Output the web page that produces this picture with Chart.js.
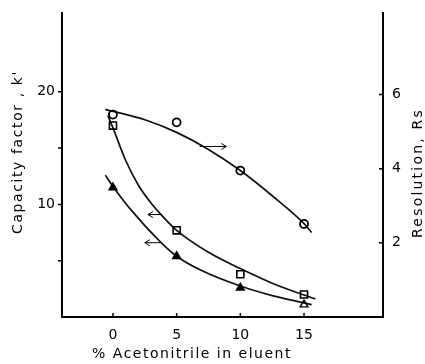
<!DOCTYPE html>
<html lang="en">
<head>
<meta charset="UTF-8">
<script src="https://cdn.jsdelivr.net/npm/chart.js"></script>
<title>Capacity factor and resolution vs. acetonitrile</title>
<style>
  html, body { margin: 0; padding: 0; background: #fff; }
</style>
</head>
<body>
<canvas id="chart" width="425" height="364"></canvas>
<script>
// measured points
const acetonitrile = [0, 5, 10, 15];
const resolution = [5.46, 5.25, 3.95, 2.51];   // circles, right axis
const kSquare = [17.0, 7.7, 3.8, 2.0];         // squares, left axis
const kTriangle = [11.5, 5.4, 2.6, 1.1];       // triangles, left axis

// hand-drawn fit curves, [x, y]
const resolutionFit = [[-0.6, 5.6], [2.5, 5.32], [5, 4.98], [7.5, 4.52], [10, 3.95], [12.5, 3.27], [15, 2.52], [15.6, 2.28]];
const kSquareFit = [[-0.4, 17.9], [0, 16.8], [1, 13.9], [2, 11.7], [3, 10.1], [3.85, 9.0], [5, 7.7], [7.5, 5.75], [10, 4.3], [12.5, 3.0], [15, 1.95], [15.9, 1.6]];
const kTriangleFit = [[-0.6, 12.6], [0, 11.6], [1.5, 9.4], [3.7, 6.7], [5, 5.4], [7, 4.1], [10, 2.75], [12.5, 1.9], [15, 1.25], [15.6, 1.1]];

// axis ticks
const xTicks = [0, 5, 10, 15];
const kTicks = [5, 10, 15, 20];
const kTickLabels = ['', '10', '', '20'];
const rsTicks = [2, 4, 6];

// little arrows telling which axis a curve belongs to
const pointers = [
  { axis: 'yR', from: [6.8, 4.6], to: [8.9, 4.6] },
  { axis: 'yL', from: [3.8, 9.1], to: [2.75, 9.1] },
  { axis: 'yL', from: [3.7, 6.6], to: [2.5, 6.6] }
];

const FONT = '"DejaVu Sans", sans-serif';
const pts = (xs, ys) => xs.map((x, i) => ({ x: x, y: ys[i] }));
const pairs = arr => arr.map(p => ({ x: p[0], y: p[1] }));

const curve = (data, axis) => ({
  data: pairs(data), yAxisID: axis, showLine: true, pointRadius: 0,
  borderColor: '#111', borderWidth: 1.7, cubicInterpolationMode: 'monotone', order: 2
});

const decor = {
  id: 'decor',
  afterDraw(chart) {
    const ctx = chart.ctx;
    const { x, yL, yR } = chart.scales;
    const a = chart.chartArea;
    ctx.save();
    ctx.strokeStyle = '#000';
    ctx.lineWidth = 1.5;
    ctx.beginPath();
    xTicks.forEach(v => { const p = x.getPixelForValue(v); ctx.moveTo(p, a.bottom); ctx.lineTo(p, a.bottom - 4); });
    kTicks.forEach(v => { const p = yL.getPixelForValue(v); ctx.moveTo(a.left, p); ctx.lineTo(a.left - 4, p); });
    rsTicks.forEach(v => { const p = yR.getPixelForValue(v); ctx.moveTo(a.right, p); ctx.lineTo(a.right - 4, p); });
    ctx.stroke();

    // pointers
    ctx.lineWidth = 1;
    pointers.forEach(pt => {
      const sc = chart.scales[pt.axis];
      const x0 = x.getPixelForValue(pt.from[0]), y0 = sc.getPixelForValue(pt.from[1]);
      const x1 = x.getPixelForValue(pt.to[0]), y1 = sc.getPixelForValue(pt.to[1]);
      const dir = Math.sign(x1 - x0);
      ctx.beginPath();
      ctx.moveTo(x0, y0); ctx.lineTo(x1, y1);
      ctx.moveTo(x1 - dir * 5, y1 - 3); ctx.lineTo(x1, y1); ctx.lineTo(x1 - dir * 5, y1 + 3);
      ctx.stroke();
    });

    // axis titles
    ctx.fillStyle = '#000';
    ctx.font = '14px ' + FONT;
    ctx.textAlign = 'center';
    ctx.textBaseline = 'middle';
    ctx.letterSpacing = '1.5px';
    ctx.fillText('% Acetonitrile in eluent', 192, 354);
    ctx.save();
    ctx.translate(18, 152); ctx.rotate(-Math.PI / 2);
    ctx.letterSpacing = '1.6px';
    ctx.fillText("Capacity factor , k'", 0, 0);
    ctx.restore();
    ctx.save();
    ctx.translate(418, 173); ctx.rotate(-Math.PI / 2);
    ctx.letterSpacing = '2.2px';
    ctx.fillText('Resolution, Rs', 0, 0);
    ctx.restore();
    ctx.restore();
  }
};

new Chart(document.getElementById('chart'), {
  type: 'scatter',
  data: {
    datasets: [
      curve(resolutionFit, 'yR'),
      curve(kSquareFit, 'yL'),
      curve(kTriangleFit, 'yL'),
      { data: pts(acetonitrile, resolution), yAxisID: 'yR', pointStyle: 'circle', pointRadius: 4,
        pointBorderWidth: 1.8, borderColor: '#000', backgroundColor: 'transparent', order: 1 },
      { data: pts(acetonitrile, kSquare), yAxisID: 'yL', pointStyle: 'rect', pointRadius: 5,
        pointBorderWidth: 1.6, borderColor: '#000', backgroundColor: 'transparent', order: 1 },
      { data: pts(acetonitrile, kTriangle), yAxisID: 'yL', pointStyle: 'triangle', pointRadius: 4.5,
        pointBorderWidth: 1.4, borderColor: '#000', backgroundColor: ['#000', '#000', '#000', 'transparent'], order: 1 }
    ]
  },
  options: {
    responsive: false,
    animation: false,
    layout: { padding: { top: 13 } },
    plugins: { legend: { display: false }, tooltip: { enabled: false } },
    scales: {
      x: {
        type: 'linear', min: -4, max: 21.2,
        grid: { display: false, drawTicks: false },
        border: { color: '#000', width: 2 },
        ticks: { color: '#000', font: { family: FONT, size: 14 }, padding: 10 },
        afterBuildTicks: s => { s.ticks = xTicks.map(v => ({ value: v })); },
        afterFit: s => { s.height = 47; s.paddingLeft = 0; s.paddingRight = 0; }
      },
      yL: {
        position: 'left', min: 0, max: 27,
        grid: { display: false, drawTicks: false },
        border: { color: '#000', width: 2 },
        ticks: { color: '#000', font: { family: FONT, size: 14 }, padding: 7,
                 callback: (v, i) => kTickLabels[i] },
        afterBuildTicks: s => { s.ticks = kTicks.map(v => ({ value: v })); },
        afterFit: s => { s.width = 62; s.paddingTop = 0; s.paddingBottom = 0; }
      },
      yR: {
        position: 'right', min: 0, max: 8.2,
        grid: { display: false, drawTicks: false },
        border: { color: '#000', width: 2 },
        ticks: { color: '#000', font: { family: FONT, size: 14 }, padding: 9 },
        afterBuildTicks: s => { s.ticks = rsTicks.map(v => ({ value: v })); },
        afterFit: s => { s.width = 42; s.paddingTop = 0; s.paddingBottom = 0; }
      }
    }
  },
  plugins: [decor]
});
</script>
</body>
</html>
